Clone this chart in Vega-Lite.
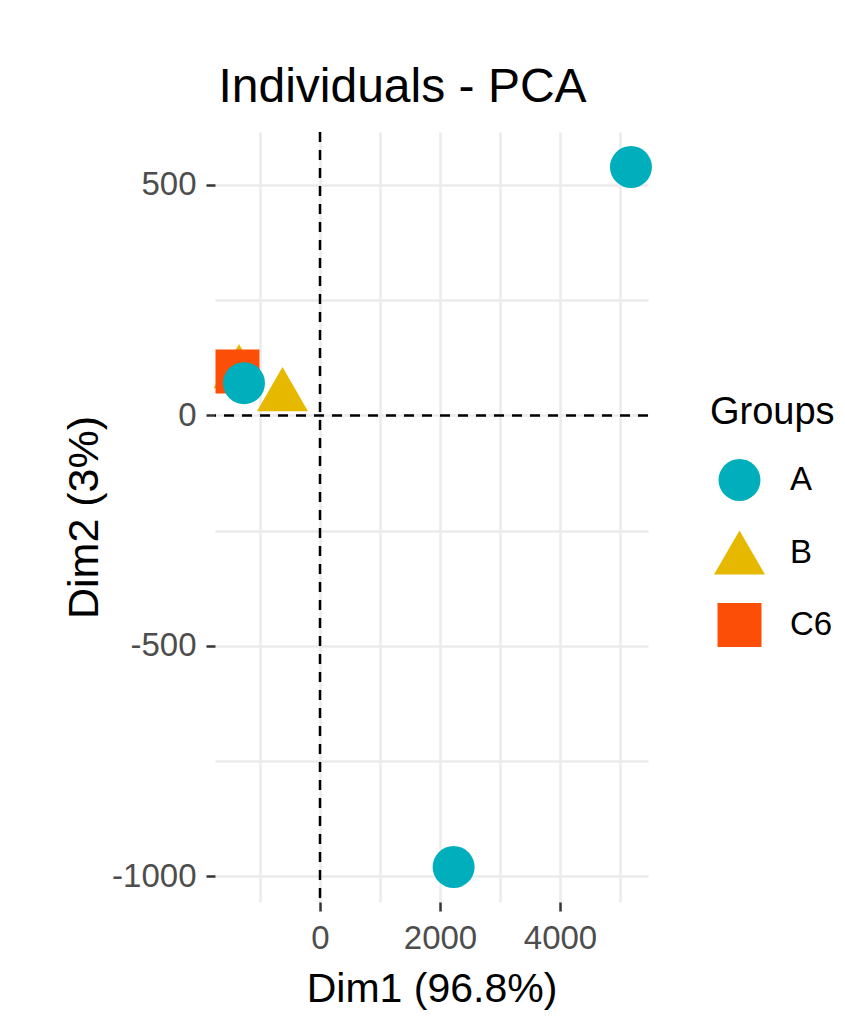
{
  "$schema": "https://vega.github.io/schema/vega-lite/v6.json",
  "autosize": {"type": "none"},
  "padding": {"left": 215, "top": 132, "right": 197, "bottom": 123},
  "width": 433,
  "height": 770,
  "background": "white",
  "title": {
    "text": "Individuals - PCA",
    "font": "Liberation Sans",
    "fontSize": 48,
    "fontWeight": "normal",
    "color": "black",
    "anchor": "middle",
    "frame": "group",
    "dx": -29,
    "dy": 48,
    "baseline": "bottom",
    "offset": 19
  },
  "config": {
    "view": {"stroke": null},
    "axis": {
      "domain": false,
      "grid": true,
      "gridColor": "#EBEBEB",
      "gridWidth": 2.5,
      "tickColor": "#333333",
      "tickWidth": 2.5,
      "tickSize": 9,
      "labelFont": "Liberation Sans",
      "labelFontSize": 33,
      "labelColor": "#4D4D4D",
      "labelPadding": 11,
      "titleFont": "Liberation Sans",
      "titleFontWeight": "normal",
      "titleColor": "black"
    },
    "legend": {
      "titleFont": "Liberation Sans",
      "titleFontSize": 38,
      "titleFontWeight": "normal",
      "titleColor": "black",
      "labelFont": "Liberation Sans",
      "labelFontSize": 33,
      "labelColor": "black"
    }
  },
  "layer": [
    {
      "data": {
        "values": [
          {"Dim1": -625, "Dim2": 57, "Group": "B"},
          {"Dim1": -1350, "Dim2": 107, "Group": "B"},
          {"Dim1": -1375, "Dim2": 95, "Group": "C6"},
          {"Dim1": 5183, "Dim2": 539, "Group": "A"},
          {"Dim1": 2227, "Dim2": -980, "Group": "A"},
          {"Dim1": -1267, "Dim2": 70, "Group": "A"}
        ]
      },
      "mark": {"type": "point", "filled": true, "opacity": 1},
      "encoding": {
        "x": {
          "field": "Dim1",
          "type": "quantitative",
          "title": "Dim1 (96.8%)",
          "scale": {"domain": [-1750, 5467], "nice": false, "zero": false},
          "axis": {
            "values": [-1000, 0, 1000, 2000, 3000, 4000, 5000],
            "labelExpr": "datum.value % 2000 === 0 ? '' + datum.value : ''",
            "tickOpacity": {"condition": {"test": "datum.value % 2000 === 0", "value": 1}, "value": 0},
            "titleFontSize": 41,
            "titlePadding": 14
          }
        },
        "y": {
          "field": "Dim2",
          "type": "quantitative",
          "title": "Dim2 (3%)",
          "scale": {"domain": [-1056, 615], "nice": false, "zero": false},
          "axis": {
            "values": [-1000, -750, -500, -250, 0, 250, 500],
            "labelExpr": "datum.value % 500 === 0 ? '' + datum.value : ''",
            "tickOpacity": {"condition": {"test": "datum.value % 500 === 0", "value": 1}, "value": 0},
            "labelPadding": 10,
            "titleFontSize": 43,
            "titlePadding": 5
          }
        },
        "color": {
          "field": "Group",
          "type": "nominal",
          "title": "Groups",
          "scale": {"domain": ["A", "B", "C6"], "range": ["#00AFBB", "#E7B800", "#FC4E07"]},
          "legend": {
            "orient": "none",
            "legendX": 495,
            "legendY": 262,
            "symbolOpacity": 1,
            "rowPadding": 22,
            "titlePadding": 26,
            "labelOffset": 24,
            "symbolOffset": 3
          }
        },
        "shape": {
          "field": "Group",
          "type": "nominal",
          "scale": {"domain": ["A", "B", "C6"], "range": ["circle", "triangle-up", "square"]}
        },
        "size": {
          "field": "Group",
          "type": "nominal",
          "scale": {"type": "ordinal", "domain": ["A", "B", "C6"], "range": [1764, 2600, 1936]}
        }
      }
    },
    {
      "data": {"values": [{"zero": 0}]},
      "mark": {"type": "rule", "color": "black", "strokeWidth": 2.5, "strokeDash": [10, 8]},
      "encoding": {"x": {"field": "zero", "type": "quantitative"}}
    },
    {
      "data": {"values": [{"zero": 0}]},
      "mark": {"type": "rule", "color": "black", "strokeWidth": 2.5, "strokeDash": [10, 8]},
      "encoding": {"y": {"field": "zero", "type": "quantitative"}}
    }
  ]
}
